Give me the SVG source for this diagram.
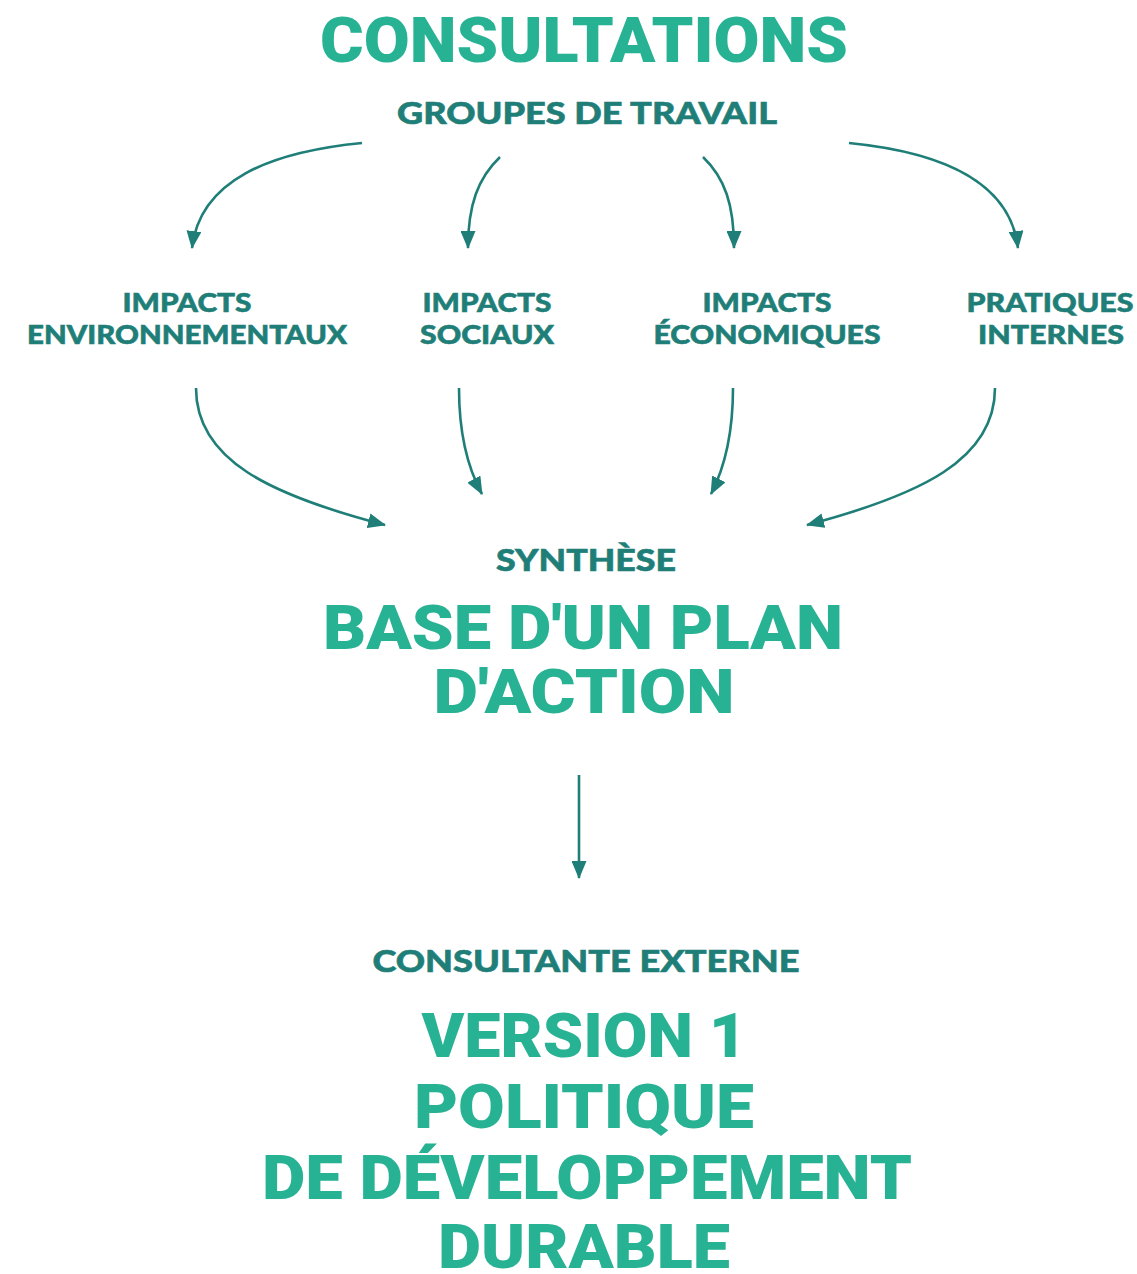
<svg xmlns="http://www.w3.org/2000/svg" width="1137" height="1274" viewBox="0 0 1137 1274">
<style>
.big{font-family:Roboto,"Liberation Sans",sans-serif;font-weight:900;fill:#28B294;text-anchor:middle}
.sub{font-family:Lato,"Liberation Sans",sans-serif;font-weight:900;fill:#1F7F78;stroke:#1F7F78;stroke-width:0.6;text-anchor:middle}
.lbl{font-family:Lato,"Liberation Sans",sans-serif;font-weight:900;fill:#1F7F78;stroke:#1F7F78;stroke-width:0.6;text-anchor:middle;font-size:27px}
.con{fill:none;stroke:#1F7F78;stroke-width:2.6}
</style>
<defs>
<marker id="ah" markerUnits="userSpaceOnUse" markerWidth="18" markerHeight="15" viewBox="0 0 18 15" refX="17" refY="7.5" orient="auto">
<path d="M0,0 L18,7.5 L0,15 Z" fill="#1F7F78"/>
</marker>
</defs>
<rect width="1137" height="1274" fill="#ffffff"/>

<g id="title">
<text class="big" x="584" y="62" font-size="63" textLength="528" lengthAdjust="spacingAndGlyphs">CONSULTATIONS</text>
<text class="sub" x="587" y="124" font-size="30" textLength="380" lengthAdjust="spacingAndGlyphs">GROUPES DE TRAVAIL</text>
</g>

<g id="node-env">
<text class="lbl" x="187" y="312" textLength="129" lengthAdjust="spacingAndGlyphs">IMPACTS</text>
<text class="lbl" x="187" y="344" textLength="320" lengthAdjust="spacingAndGlyphs">ENVIRONNEMENTAUX</text>
</g>
<g id="node-soc">
<text class="lbl" x="487" y="312" textLength="129" lengthAdjust="spacingAndGlyphs">IMPACTS</text>
<text class="lbl" x="487" y="344" textLength="134" lengthAdjust="spacingAndGlyphs">SOCIAUX</text>
</g>
<g id="node-eco">
<text class="lbl" x="767" y="312" textLength="129" lengthAdjust="spacingAndGlyphs">IMPACTS</text>
<text class="lbl" x="767" y="344" textLength="227" lengthAdjust="spacingAndGlyphs">ÉCONOMIQUES</text>
</g>
<g id="node-prat">
<text class="lbl" x="1050" y="312" textLength="167" lengthAdjust="spacingAndGlyphs">PRATIQUES</text>
<text class="lbl" x="1051" y="344" textLength="146" lengthAdjust="spacingAndGlyphs">INTERNES</text>
</g>

<g id="node-synthese">
<text class="sub" x="586" y="571" font-size="30" textLength="180" lengthAdjust="spacingAndGlyphs">SYNTHÈSE</text>
<text class="big" x="583" y="649" font-size="62" textLength="520" lengthAdjust="spacingAndGlyphs">BASE D'UN PLAN</text>
<text class="big" x="584" y="713" font-size="62" textLength="301" lengthAdjust="spacingAndGlyphs">D'ACTION</text>
</g>

<g id="node-politique">
<text class="sub" x="586" y="972" font-size="30" textLength="427" lengthAdjust="spacingAndGlyphs">CONSULTANTE EXTERNE</text>
<text class="big" x="584" y="1057" font-size="62" textLength="325" lengthAdjust="spacingAndGlyphs">VERSION 1</text>
<text class="big" x="584" y="1128" font-size="62" textLength="340" lengthAdjust="spacingAndGlyphs">POLITIQUE</text>
<text class="big" x="587" y="1199" font-size="62" textLength="650" lengthAdjust="spacingAndGlyphs">DE DÉVELOPPEMENT</text>
<text class="big" x="584" y="1268" font-size="62" textLength="292" lengthAdjust="spacingAndGlyphs">DURABLE</text>
</g>

<g id="connectors">
<path class="con" marker-end="url(#ah)" d="M362,143 C270,152 200,180 192,248"/>
<path class="con" marker-end="url(#ah)" d="M500,157 C478,178 468,205 468,248"/>
<path class="con" marker-end="url(#ah)" d="M703,157 C725,178 734,205 734,248"/>
<path class="con" marker-end="url(#ah)" d="M849,143 C940,152 1010,180 1018,248"/>
<path class="con" marker-end="url(#ah)" d="M196,388 C196,460 270,495 385,525"/>
<path class="con" marker-end="url(#ah)" d="M459,388 C459,430 466,465 482,494"/>
<path class="con" marker-end="url(#ah)" d="M733,388 C733,430 726,465 711,494"/>
<path class="con" marker-end="url(#ah)" d="M995,388 C995,460 920,495 807,525"/>
<path class="con" marker-end="url(#ah)" d="M579,775 L579,878"/>
</g>
</svg>
